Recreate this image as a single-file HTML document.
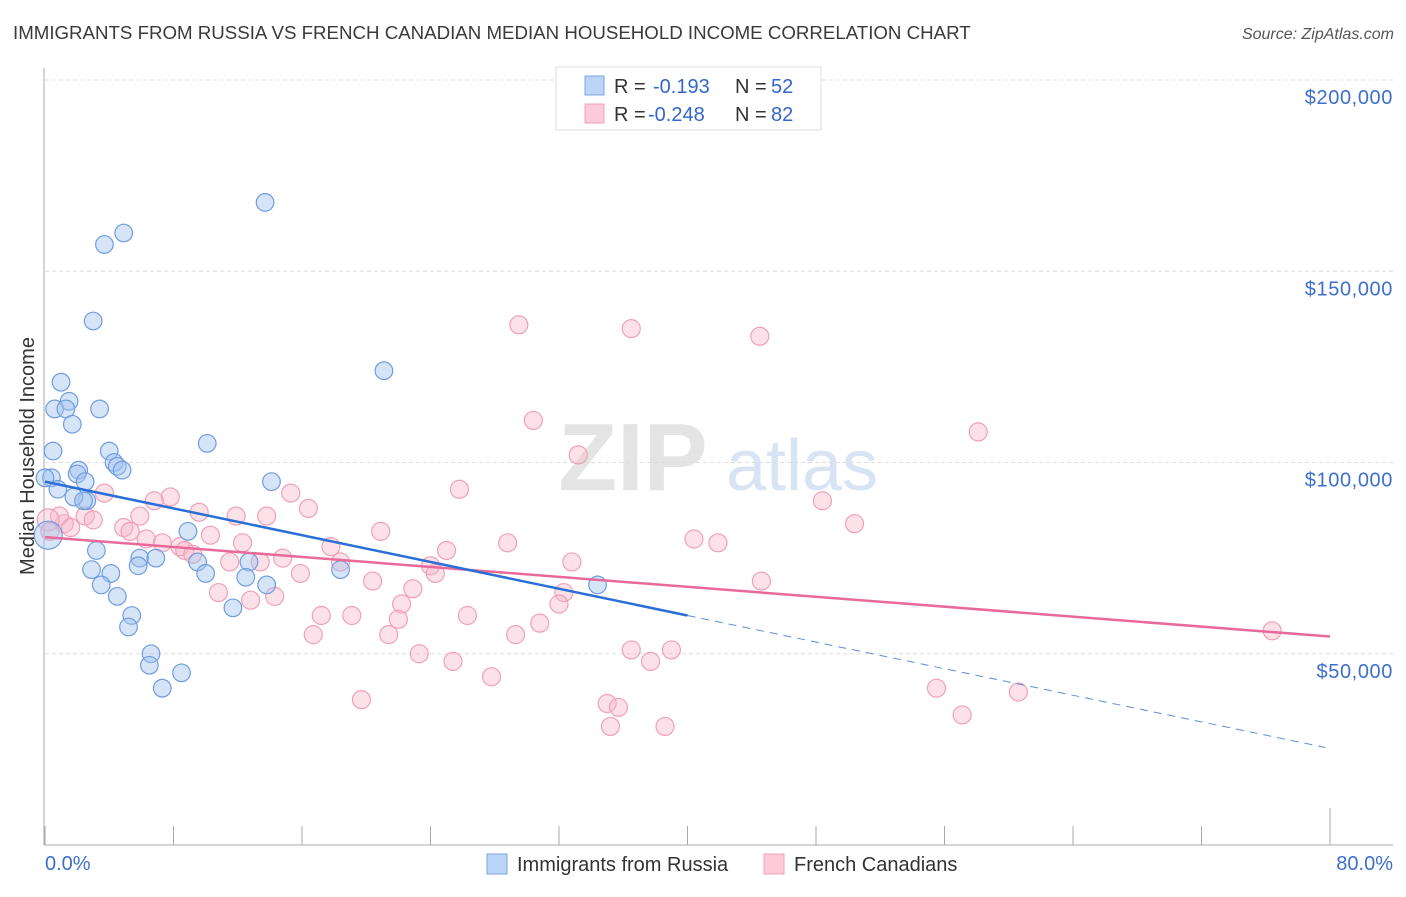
<!DOCTYPE html>
<html><head><meta charset="utf-8"><style>
body{margin:0;background:#fff;font-family:"Liberation Sans",sans-serif;}
svg text{font-family:"Liberation Sans",sans-serif;}
</style></head><body>
<svg width="1406" height="892" viewBox="0 0 1406 892">
<text x="13" y="39" font-size="18.7" fill="#3a3a3a">IMMIGRANTS FROM RUSSIA VS FRENCH CANADIAN MEDIAN HOUSEHOLD INCOME CORRELATION CHART</text>
<text x="1394" y="39" font-size="16" fill="#555" font-style="italic" text-anchor="end">Source: ZipAtlas.com</text>
<g>
<text x="633" y="490" font-size="96" fill="#e4e4e4" font-family="Liberation Serif" text-anchor="middle" font-weight="bold">ZIP</text>
<text x="802" y="490" font-size="72" fill="#d8e4f3" text-anchor="middle">atlas</text>
</g>
<g id="grid"></g>
<g id="axes"></g>
<g id="pts"></g>
<g id="lines"></g>
<text transform="translate(34,456) rotate(-90)" font-size="20" fill="#333" text-anchor="middle">Median Household Income</text>
<g>
<rect x="556" y="67" width="265" height="63" fill="#fff" stroke="#ddd"/>
<rect x="585" y="76" width="19" height="19" fill="#bcd4f6" stroke="#7aa6e0"/>
<rect x="585" y="104" width="19" height="19" fill="#fbcbd9" stroke="#f0a0b8"/>
<text x="614" y="93" font-size="20" fill="#333">R = <tspan x="653" fill="#3366cc">-0.193</tspan><tspan x="735">N = </tspan><tspan x="771" fill="#3366cc">52</tspan></text>
<text x="614" y="121" font-size="20" fill="#333">R = <tspan x="648" fill="#3366cc">-0.248</tspan><tspan x="735">N = </tspan><tspan x="771" fill="#3366cc">82</tspan></text>
</g>
<g>
<rect x="487" y="854" width="20" height="20" fill="#bcd4f6" stroke="#7aa6e0"/>
<text x="517" y="871" font-size="20" fill="#333">Immigrants from Russia</text>
<rect x="764" y="854" width="20" height="20" fill="#fbcbd9" stroke="#f0a0b8"/>
<text x="794" y="871" font-size="20" fill="#333">French Canadians</text>
</g>
</svg>
<script>
const yTicks=[50000,100000,150000,200000];
const yTickLabels=["$50,000","$100,000","$150,000","$200,000"];
const xTickLabels=["0.0%","80.0%"];
const russiaX=[13.7,4.9,3.7,3.0,21.1,1.0,1.5,0.6,1.3,1.7,3.4,0.5,4.0,10.1,2.1,2.0,4.3,4.5,4.8,14.1,0.4,0.8,2.5,2.6,1.8,2.4,8.9,3.2,12.7,9.5,5.9,6.9,2.9,4.1,5.8,10.0,12.5,18.4,34.4,3.5,4.5,13.8,5.4,5.2,11.7,6.6,6.5,8.5,7.3,0.2,0.0];
const russiaY=[168,160,157,137,124,121,116,114,114,110,114,103,103,105,98,97,100,99,98,95,96,93,95,90,91,90,82,77,74,74,75,75,72,71,73,71,70,72,68,68,65,68,60,57,62,50,47,45,41,81,96];
const frenchX=[29.5,36.5,44.5,30.4,58.1,33.2,25.8,15.3,3.7,7.8,6.8,48.4,16.4,9.6,11.9,13.8,5.9,2.5,1.2,3.0,4.9,20.9,50.4,10.3,5.3,7.3,6.3,8.4,8.7,12.3,28.8,40.4,41.9,17.8,25.0,9.2,11.5,14.8,18.4,13.4,32.8,24.0,24.3,15.9,20.4,22.9,44.6,32.3,10.8,12.8,14.3,22.2,32.0,22.0,17.2,19.1,26.3,30.8,16.7,21.4,29.3,76.4,39.0,36.5,37.7,23.3,25.4,27.8,55.5,60.6,19.7,35.0,35.7,57.1,35.2,38.6,0.9,0.2,1.6,0.3];
const frenchY=[136,135,133,111,108,102,93,92,92,91,90,90,88,87,86,86,86,86,84,85,83,82,84,81,82,79,80,78,77,79,79,80,79,78,77,76,74,75,74,74,74,73,71,71,69,67,69,66,66,64,65,63,63,59,60,60,60,58,55,55,55,56,51,51,48,50,48,44,41,40,38,37,36,34,31,31,86,85,83,82];
const russiaTrend=[[0,95],[40,60]], russiaDash=[[40,60],[79.7,25.5]];
const frenchTrend=[[0,80.5],[80,54.5]];
const NS="http://www.w3.org/2000/svg";
const X0=45,X1=1330,Y0=845;
const xs=p=>X0+p/80*(X1-X0);
const ys=k=>Y0-k*3.825;
function mk(t,a,parent){const e=document.createElementNS(NS,t);for(const k in a)e.setAttribute(k,a[k]);document.getElementById(parent).appendChild(e);return e;}
yTicks.forEach((v,i)=>{
 const y=ys(v/1000);
 const g=mk('line',{x1:45,x2:1393,y1:y,y2:y,stroke:'#ddd','stroke-dasharray':'4,3'},'grid');
 
 
 const t=mk('text',{x:1393,y:y+24,'font-size':20,'letter-spacing':'0.6',fill:'#3d6fcc','text-anchor':'end'},'axes');
 t.textContent=yTickLabels[i];
 
 
});
mk('line',{x1:44,x2:44,y1:68,y2:845,stroke:'#aaa'},'axes');
mk('line',{x1:44,x2:1393,y1:845,y2:845,stroke:'#aaa'},'axes');
for(let i=0;i<=10;i++){const x=xs(i*8);const tk=mk('line',{x1:x,x2:x,y1:i==10?808:826,y2:845,stroke:'#aaa'},'axes');
 
 }
let t1=mk('text',{x:45,y:870,'font-size':20,fill:'#3d6fcc'},'axes');t1.textContent=xTickLabels[0];


let t2=mk('text',{x:1393,y:870,'font-size':20,fill:'#3d6fcc','text-anchor':'end'},'axes');t2.textContent=xTickLabels[1];


frenchX.forEach((p,i)=>{const c=mk('circle',{cx:xs(p),cy:ys(frenchY[i]),r:i==77?11:9,fill:'rgba(248,180,200,0.4)',stroke:'#f0a0b8','stroke-width':1.2},'pts');
 
 });
russiaX.forEach((p,i)=>{const c=mk('circle',{cx:xs(p),cy:ys(russiaY[i]),r:i==49?14:8.8,fill:'rgba(164,196,240,0.45)',stroke:'#6f9de0','stroke-width':1.2},'pts');
 
 });
function ln(seg,col,w,dash,name){const l=mk('line',{x1:xs(seg[0][0]),y1:ys(seg[0][1]),x2:xs(seg[1][0]),y2:ys(seg[1][1]),stroke:col,'stroke-width':w},'lines');if(dash)l.setAttribute('stroke-dasharray',dash);
 
 }
ln(frenchTrend,'#e8699a',2.5,null,'trend-french-canadians');
ln(russiaTrend,'#2a6fd6',2.5,null,'trend-immigrants-russia');
ln(russiaDash,'#5b8fd8',1,'8,6','trend-immigrants-russia-extrapolated');
</script>
</body></html>
